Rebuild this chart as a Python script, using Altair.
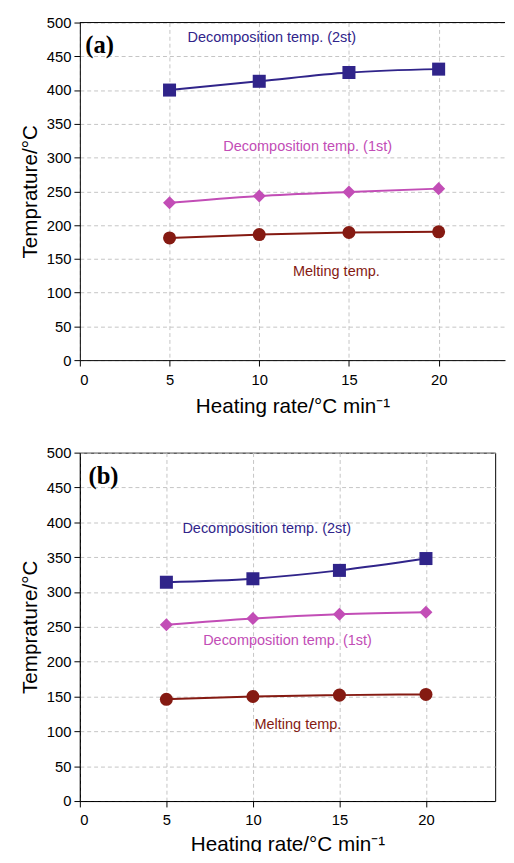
import altair as alt
import pandas as pd

rates = [5, 10, 15, 20]
series = ["Decomposition temp. (2st)", "Decomposition temp. (1st)", "Melting temp."]

a_decomp2 = [400, 413, 426, 431]
a_decomp1 = [233, 243, 249, 254]
a_melt = [181, 186, 189, 190]

b_decomp2 = [314, 319, 331, 348]
b_decomp1 = [253, 262, 268, 271]
b_melt = [146, 150, 152, 153]

x_ticks = [0, 5, 10, 15, 20]
y_ticks = [0, 50, 100, 150, 200, 250, 300, 350, 400, 450, 500]

# annotation anchors (data coords)
a_label_x = [10.7, 12.7, 14.3]
a_label_y = [477, 316, 131]
b_label_x = [10.8, 12.0, 12.6]
b_label_y = [390, 229, 109]

colors = ["#30248a", "#c24db6", "#851a12"]
shapes = ["square", "diamond", "circle"]
sizes = [175, 175, 130]

FONT = "Liberation Sans"


def panel(vals, lab_x, lab_y, tag, tag_x, tag_y, width, height, xmax, boxed, lpad, tpad):
    rows = []
    for s, v in zip(series, vals):
        for r, t in zip(rates, v):
            rows.append({"rate": r, "temp": t, "series": s})
    df = pd.DataFrame(rows)

    xs = alt.Scale(domain=[0, xmax], nice=False, zero=False)
    ys = alt.Scale(domain=[0, 500], nice=False)
    cs = alt.Scale(domain=series, range=colors)

    common = dict(titleFontSize=21, titleFontWeight="normal", titleColor="black",
                  labelFontSize=15, labelColor="black", labelOverlap=False,
                  tickSize=6, tickColor="black", domainColor="black",
                  grid=True, gridDash=[4, 3], gridColor="#c4c4c4",
                  labelFont=FONT, titleFont=FONT)
    xaxis = alt.Axis(values=x_ticks, title="Heating rate/°C min⁻¹", titlePadding=tpad,
                     labelPadding=lpad, **common)
    yaxis = alt.Axis(values=y_ticks, title="Temprature/°C", titlePadding=6,
                     labelPadding=3, **common)

    def X(f):
        return alt.X(f, scale=xs, axis=xaxis)

    def Y(f):
        return alt.Y(f, scale=ys, axis=yaxis)

    col = alt.Color("series:N", scale=cs, legend=None)

    lines = alt.Chart(df).mark_line(interpolate="monotone", strokeWidth=2).encode(
        x=X("rate:Q"), y=Y("temp:Q"), color=col)
    pts = alt.Chart(df).mark_point(filled=True, opacity=1).encode(
        x=X("rate:Q"), y=Y("temp:Q"), color=col,
        shape=alt.Shape("series:N", scale=alt.Scale(domain=series, range=shapes), legend=None),
        size=alt.Size("series:N", scale=alt.Scale(domain=series, range=sizes), legend=None),
    )

    ldf = pd.DataFrame({"series": series, "rate": lab_x, "temp": lab_y})
    labels = alt.Chart(ldf).mark_text(fontSize=14.7, font=FONT).encode(
        x=X("rate:Q"), y=Y("temp:Q"), text="series:N", color=col)

    tdf = pd.DataFrame({"rate": [tag_x], "temp": [tag_y], "t": [tag]})
    tagm = alt.Chart(tdf).mark_text(align="left", font="Liberation Serif", fontWeight="bold",
                                    fontSize=25, color="black").encode(
        x=X("rate:Q"), y=Y("temp:Q"), text="t:N")

    layers = [lines, pts, labels, tagm]
    if not boxed:
        topdf = pd.DataFrame({"temp": [500]})
        top = alt.Chart(topdf).mark_rule(color="black", strokeWidth=1).encode(y=Y("temp:Q"))
        layers.append(top)

    ch = alt.layer(*layers).properties(width=width, height=height)
    if boxed:
        ch = ch.properties(view=alt.ViewBackground(stroke="black", strokeWidth=1))
    else:
        ch = ch.properties(view=alt.ViewBackground(stroke=None))
    return ch


pa = panel([a_decomp2, a_decomp1, a_melt], a_label_x, a_label_y, "(a)", 0.3, 466,
           432, 343, 23.7, False, 7, 8)
pb = panel([b_decomp2, b_decomp1, b_melt], b_label_x, b_label_y, "(b)", 0.5, 467,
           422, 354, 24, True, 6, 6)

chart = alt.vconcat(pa, pb, spacing=29).properties(
    padding={"left": 11, "top": 1, "right": 0, "bottom": -10}
).configure(font=FONT).configure_view(stroke="black")

chart.save("out.html", embed_options={"renderer": "svg", "actions": False})
